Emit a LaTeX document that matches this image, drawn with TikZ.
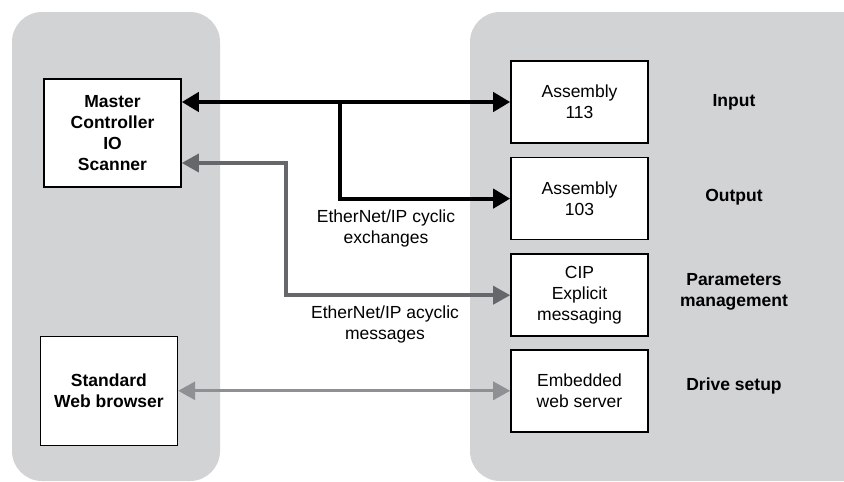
\documentclass[tikz,border=0pt]{standalone}
\usepackage{fontspec}
\setmainfont{Liberation Sans}
\usepackage{xcolor}
\usepackage{tikz}
\usetikzlibrary{arrows.meta,positioning}
\definecolor{panelgray}{RGB}{209,211,213}
\definecolor{darkarrow}{RGB}{102,103,106}
\definecolor{lightarrow}{RGB}{142,144,147}
\newcommand{\diagfont}{\fontsize{17.5}{21}\selectfont}

\begin{document}
\begin{tikzpicture}[x=1pt, y=-1pt, font=\diagfont,
		box/.style={rectangle, draw, line width=1.6pt, fill=white, minimum width=137pt, minimum height=82pt, align=center, inner sep=0pt},
		sidelbl/.style={align=center, font=\diagfont\bfseries},
		tip/.style={-{Triangle[length=17pt, width=19pt]}},
		cyclic/.style={line width=4pt, black},
		acyclic/.style={line width=3.5pt, darkarrow},
		webline/.style={line width=3pt, lightarrow}]
	\useasboundingbox (0,0) rectangle (844,482);
	% device panels
	\fill[panelgray, rounded corners=30pt] (12,12) rectangle (220,481);
	\begin{scope}
		\clip (0,0) rectangle (844,482);
		\fill[panelgray, rounded corners=30pt] (470,12) rectangle (900,481);
	\end{scope}
	% boxes
	\node[box, minimum height=108pt, font=\diagfont\bfseries] (master) at (112.5,133) {Master\\Controller\\IO\\Scanner};
	\node[box] (asm113) at (579.5,102) {Assembly\\113};
	\node[box, below=13pt of asm113] (asm103) {Assembly\\103};
	\node[box, below=13pt of asm103] (cip) {CIP\\Explicit\\messaging};
	\node[box, below=12pt of cip] (websrv) {Embedded\\web server};
	\node[box, minimum height=109pt, font=\diagfont\bfseries, left=332pt of websrv] (browser) {Standard\\Web browser};
	% side labels
	\node[sidelbl] (input) at (734,102) {Input};
	\node[sidelbl] (output) at (734,197) {Output};
	\node[sidelbl] (params) at (734,292) {Parameters\\management};
	\node[sidelbl] (setup) at (734,386) {Drive setup};
	% exchange labels
	\node[align=center] (cyclbl) at (386,228) {EtherNet/IP cyclic\\exchanges};
	\node[align=center] (acyclbl) at (385,324) {EtherNet/IP acyclic\\messages};
	% connectors
	\coordinate (cycfork) at (340,102);
	\coordinate (acycturn) at (286,163);
	\draw[cyclic, {Triangle[length=17pt, width=19pt]}-{Triangle[length=17pt, width=19pt]}] (master.east |- asm113.west) -- (asm113.west);
	\draw[cyclic, tip] (cycfork) |- (asm103.west);
	\draw[acyclic, {Triangle[length=17pt, width=18pt]}-{Triangle[length=17pt, width=18pt]}] (master.east |- acycturn) -- (acycturn) |- (cip.west);
	\draw[webline, {Triangle[length=17pt, width=18pt]}-{Triangle[length=17pt, width=18pt]}] (browser) -- (websrv);
\end{tikzpicture}
\end{document}
